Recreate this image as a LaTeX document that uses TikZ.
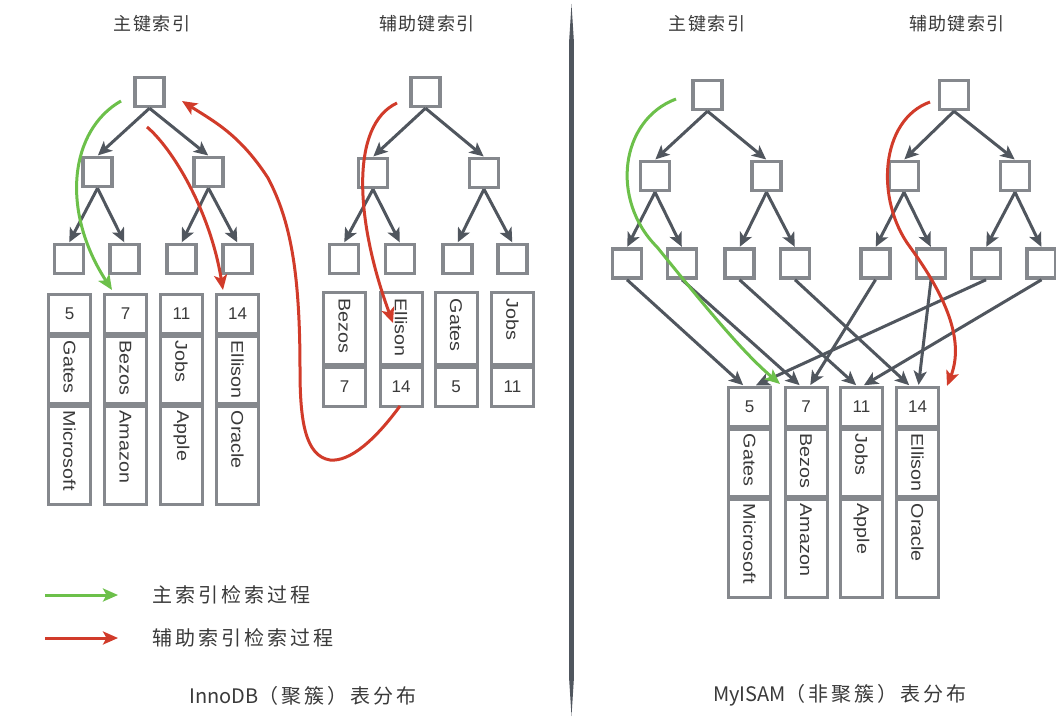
\documentclass[tikz,border=0pt]{standalone}
\usepackage{fontspec}
\setmainfont{Liberation Sans}
\newfontfamily\cjkh[LetterSpace=8]{Noto Sans CJK SC}
\newfontfamily\cjkl[LetterSpace=15]{Noto Sans CJK SC}
\newfontfamily\cjkn{Noto Sans CJK SC}
\usetikzlibrary{arrows.meta}
\definecolor{arrowgray}{HTML}{50565E}
\definecolor{boxgray}{HTML}{85888D}
\definecolor{ggreen}{HTML}{6CC04A}
\definecolor{rred}{HTML}{D13B2A}
\definecolor{txt}{HTML}{3A3A3A}
\newcommand\recP[6]{%
  \node[cell, minimum height=39pt] (#1n) at (#2,#3+19.5) {#4};
  \node[cell, minimum height=67pt, anchor=north] (#1m) at (#1n.south) {};
  \node[cell, minimum height=98pt, anchor=north] (#1c) at (#1m.south) {};
  \node[vtext, anchor=west] (#1mt) at ([yshift=-6pt]#1m.north) {\scalebox{1.16}[1]{#5}};
  \node[vtext, anchor=west] (#1ct) at ([yshift=-6pt]#1c.north) {\scalebox{1.16}[1]{#6}};
}
\newcommand\recS[5]{%
  \node[cell, minimum height=72pt] (#1m) at (#2,#3+36) {};
  \node[cell, minimum height=39pt, anchor=north] (#1n) at (#1m.south) {#5};
  \node[vtext, anchor=west] (#1mt) at ([yshift=-8pt]#1m.north) {\scalebox{1.16}[1]{#4}};
}
\begin{document}
\begin{tikzpicture}[x=1pt,y=-1pt,
  tbox/.style={draw=boxgray, line width=3.5pt, fill=white, minimum size=29pt, inner sep=0pt},
  tarr/.style={draw=arrowgray, line width=3pt, -{Stealth[length=14pt,width=13pt,inset=3.5pt]}, shorten >=0.5pt},
  cell/.style={draw=boxgray, line width=3pt, fill=white, minimum width=42pt, inner sep=0pt, text=txt, font=\fontsize{17}{17}\selectfont},
  vtext/.style={rotate=-90, inner sep=0pt, text=txt, font=\fontsize{17}{17}\selectfont},
  garr/.style={draw=ggreen, line width=3pt, -{Stealth[length=15pt,width=13pt,inset=3.5pt]}},
  rarr/.style={draw=rred, line width=3pt, -{Stealth[length=15pt,width=13pt,inset=3.5pt]}},
  head/.style={font=\cjkh\fontsize{18}{18}\selectfont, text=txt, inner sep=0pt},
  lbl/.style={font=\cjkl\fontsize{20}{20}\selectfont, text=txt, inner sep=0pt},
]
\useasboundingbox (0,0) rectangle (1056,725);
\fill[white] (0,0) rectangle (1056,725);

% headings
\node[head] (h1) at (152,24) {主键索引};
\node[head] (h2) at (427,24) {辅助键索引};
\node[head] (h3) at (707,24) {主键索引};
\node[head] (h4) at (957,24) {辅助键索引};

% divider
\fill[arrowgray] (571.5,4) -- (573.8,40) -- (573.8,680) -- (571.5,716) -- (569.2,680) -- (569.2,40) -- cycle;

% ---------- InnoDB primary tree ----------
\node[tbox] (a0) at (149.5,92) {};
\node[tbox] (a1) at (97.5,172) {};
\node[tbox] (a2) at (208.5,172) {};
\node[tbox] (a11) at (69,259) {};
\node[tbox] (a12) at (124.5,259) {};
\node[tbox] (a21) at (181.5,259) {};
\node[tbox] (a22) at (237.5,259) {};
\foreach \p/\c in {a0/a1,a0/a2,a1/a11,a1/a12,a2/a21,a2/a22}
  \draw[tarr] (\p.south) -- (\c.north);

% ---------- InnoDB secondary tree ----------
\node[tbox] (b0) at (425.5,92) {};
\node[tbox] (b1) at (373,173) {};
\node[tbox] (b2) at (484,173) {};
\node[tbox] (b11) at (344,259) {};
\node[tbox] (b12) at (400,259) {};
\node[tbox] (b21) at (457.5,259) {};
\node[tbox] (b22) at (512.5,259) {};
\foreach \p/\c in {b0/b1,b0/b2,b1/b11,b1/b12,b2/b21,b2/b22}
  \draw[tarr] (\p.south) -- (\c.north);

% ---------- MyISAM primary tree ----------
\node[tbox] (c0) at (707.5,95) {};
\node[tbox] (c1) at (655,176) {};
\node[tbox] (c2) at (766.5,176) {};
\node[tbox] (c11) at (627,263.5) {};
\node[tbox] (c12) at (682,263.5) {};
\node[tbox] (c21) at (739.5,263.5) {};
\node[tbox] (c22) at (795,263.5) {};
\foreach \p/\c in {c0/c1,c0/c2,c1/c11,c1/c12,c2/c21,c2/c22}
  \draw[tarr] (\p.south) -- (\c.north);

% ---------- MyISAM secondary tree ----------
\node[tbox] (d0) at (954,95) {};
\node[tbox] (d1) at (904,176) {};
\node[tbox] (d2) at (1015,176) {};
\node[tbox] (d11) at (875.5,263.5) {};
\node[tbox] (d12) at (931,263.5) {};
\node[tbox] (d21) at (986,263.5) {};
\node[tbox] (d22) at (1041.5,263.5) {};
\foreach \p/\c in {d0/d1,d0/d2,d1/d11,d1/d12,d2/d21,d2/d22}
  \draw[tarr] (\p.south) -- (\c.north);

% ---------- records ----------
\recP{pa}{69.5}{294}{5}{Gates}{Microsoft}
\recP{pb}{125.5}{294}{7}{Bezos}{Amazon}
\recP{pc}{181.5}{294}{11}{Jobs}{Apple}
\recP{pd}{237.5}{294}{14}{Ellison}{Oracle}

\recS{sa}{344.5}{292}{Bezos}{7}
\recS{sb}{401}{292}{Ellison}{14}
\recS{sc}{456}{292}{Gates}{5}
\recS{sd}{512.5}{292}{Jobs}{11}

\recP{ma}{749.5}{387}{5}{Gates}{Microsoft}
\recP{mb}{806}{387}{7}{Bezos}{Amazon}
\recP{mc}{861.5}{387}{11}{Jobs}{Apple}
\recP{md}{917.5}{387}{14}{Ellison}{Oracle}

% MyISAM leaf -> record pointers
\draw[tarr] (c11.south) -- ([xshift=-6pt]man.north);
\draw[tarr] (c12.south) -- ([xshift=-6pt]mbn.north);
\draw[tarr] (c21.south) -- ([xshift=-5pt]mcn.north);
\draw[tarr] (c22.south) -- ([xshift=-8pt]mdn.north);
\draw[tarr] (d11.south) -- ([xshift=4pt]mbn.north);
\draw[tarr] (d12.south) -- ([xshift=1pt]mdn.north);
\draw[tarr] (d21.south) -- ([xshift=6pt]man.north);
\draw[tarr] (d22.south) -- ([xshift=2pt]mcn.north);

% ---------- search paths ----------
\coordinate (g1s) at (121,101);
\coordinate (g1e) at (112,290);
\draw[garr] (g1s) .. controls (70,130) and (60,210) .. (g1e);

\coordinate (r1s) at (147,127);
\coordinate (r1e) at (223,290);
\draw[rarr] (r1s) .. controls (172,148) and (210,210) .. (r1e);

\coordinate (r3s) at (397,103);
\coordinate (r3e) at (393,323);
\draw[rarr] (r3s) .. controls (350,125) and (355,220) .. (r3e);

\coordinate (r2s) at (400,406);
\coordinate (r2e) at (182,101);
\draw[rarr] (r2s) .. controls (375,440) and (350,462) .. (330,460)
  .. controls (305,456) and (300,420) .. (300,370)
  .. controls (300,270) and (290,220) .. (268,178)
  .. controls (240,135) and (215,122) .. (r2e);

\coordinate (g2s) at (676,99);
\coordinate (g2e) at (780,384);
\draw[garr] (g2s) .. controls (620,120) and (610,200) .. (657,247)
  .. controls (700,300) and (740,350) .. (g2e);

\coordinate (r4s) at (930,102);
\coordinate (r4e) at (947,386);
\draw[rarr] (r4s) .. controls (880,120) and (875,200) .. (910,247)
  .. controls (945,295) and (965,340) .. (r4e);

% ---------- legend ----------
\coordinate (lg1a) at (45,595);
\coordinate (lg1b) at (118,595);
\draw[garr] (lg1a) -- (lg1b);
\node[lbl, anchor=west] (lg1t) at (152,595) {主索引检索过程};
\coordinate (lg2a) at (45,638);
\coordinate (lg2b) at (118,638);
\draw[rarr] (lg2a) -- (lg2b);
\node[lbl, anchor=west] (lg2t) at (152,638) {辅助索引检索过程};

% ---------- captions ----------
\node[lbl] (cap1) at (303,696) {{\cjkn InnoDB}（聚簇）表分布};
\node[lbl] (cap2) at (840,695) {{\cjkn MyISAM}（非聚簇）表分布};
\end{tikzpicture}
\end{document}
